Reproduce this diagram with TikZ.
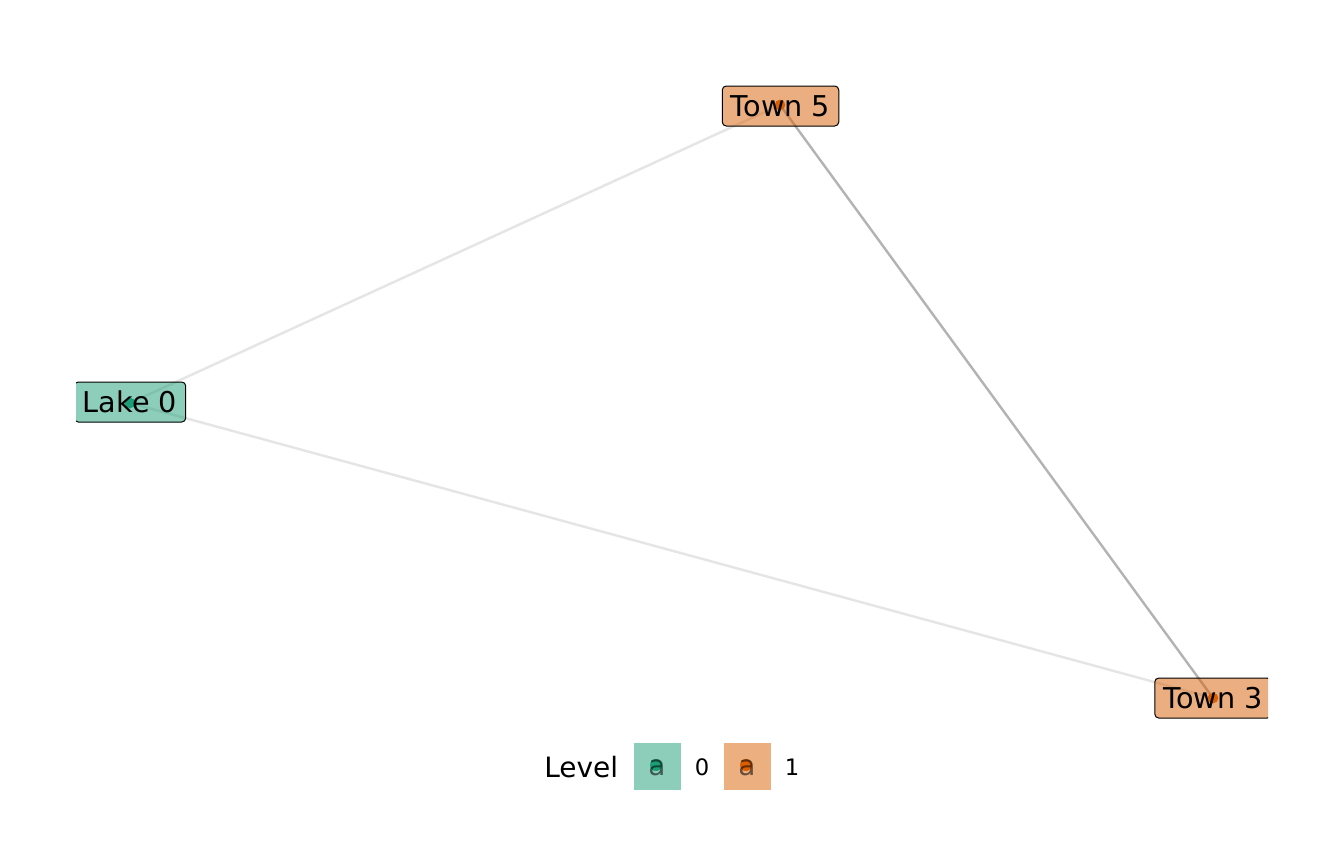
\documentclass[tikz,border=0pt]{standalone}
\usepackage{fontspec}
\setmainfont{DejaVu Sans}
\definecolor{dgreen}{HTML}{1B9E77}
\definecolor{dorange}{HTML}{D95F02}
\definecolor{edgelight}{HTML}{E5E5E5}
\definecolor{edgedark}{HTML}{B3B3B3}
\begin{document}
\begin{tikzpicture}[x=0.75pt,y=-0.75pt,
  lbl/.style={draw=black,line width=0.75pt,rounded corners=3pt,fill opacity=0.5,text opacity=1,
    font=\fontsize{21.5}{21.5}\selectfont,inner xsep=6.5pt,inner ysep=0pt,minimum height=30pt,
    text height=17.5pt,text depth=2.5pt},
  pt/.style={circle,inner sep=0pt,minimum size=8pt},
  lightedge/.style={draw=edgelight,line width=1.8pt},
  darkedge/.style={draw=edgedark,line width=1.8pt},
  keybox/.style={minimum size=35.25pt,inner sep=0pt},
  keytext/.style={font=\fontsize{17}{17}\selectfont}
]
\useasboundingbox[fill=white] (0,0) rectangle (1344,865);
\begin{scope}
\clip (76,0) rectangle (1268,865);
\coordinate (L0) at (130,403);
\coordinate (T5) at (780,105);
\coordinate (T3) at (1213,698);
\draw[lightedge] (L0) -- (T5);
\draw[lightedge] (L0) -- (T3);
\draw[darkedge] (T5) -- (T3);
\node[pt,fill=dgreen] (pL0) at (L0) {};
\node[pt,fill=dorange] (pT5) at (T5) {};
\node[pt,fill=dorange] (pT3) at (T3) {};
\node[lbl,fill=dgreen] (lL0) at (130,402) {Lake 0};
\node[lbl,fill=dorange] (lT5) at (780.5,106) {Town 5};
\node[lbl,fill=dorange] (lT3) at (1213,698) {Town 3};
\end{scope}
% legend
\node[font=\fontsize{21}{21}\selectfont,anchor=west,inner sep=0pt] (lev) at (544,767) {Level};
\node[keybox,fill=dgreen!50] (k0) at (657.5,766.5) {};
\node[pt,fill=dgreen,minimum size=9pt] (k0p) at (656,765) {};
\node[text=black,text opacity=0.55,font=\fontsize{21}{21}\selectfont,inner sep=0pt] (k0a) at (657,768) {a};
\node[keytext] (t0) at (702,767) {0};
\node[keybox,fill=dorange!50] (k1) at (747.5,766.5) {};
\node[pt,fill=dorange,minimum size=9pt] (k1p) at (746,765) {};
\node[text=black,text opacity=0.55,font=\fontsize{21}{21}\selectfont,inner sep=0pt] (k1a) at (747,768) {a};
\node[keytext] (t1) at (792,767) {1};
\end{tikzpicture}
\end{document}
